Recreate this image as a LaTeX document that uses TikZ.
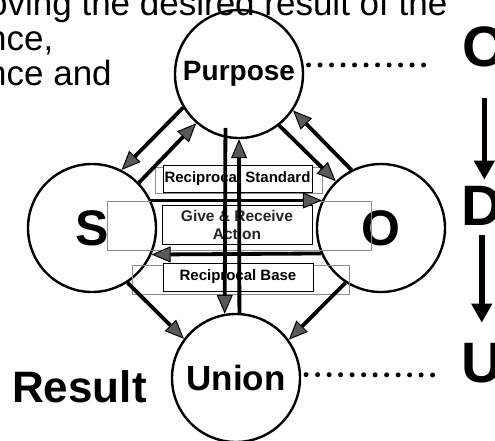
\documentclass[tikz,border=0pt]{standalone}
\usepackage{fontspec}
\setmainfont{Liberation Sans}
\usetikzlibrary{arrows.meta}

\begin{document}
\begin{tikzpicture}[x=1pt, y=-1pt,
    stage/.style={circle, draw, line width=2.4pt, minimum size=128pt, inner sep=0pt},
    flow/.style={line width=3.8pt, -{Triangle[length=19pt, width=16pt, fill=black!65, line width=1pt]}},
    recip/.style={draw, line width=1pt, fill=white, inner sep=0pt, font=\bfseries\fontsize{15}{15}\selectfont},
    ghost/.style={draw=black!45, line width=0.6pt},
    dotline/.style={line width=5pt, line cap=round, dash pattern=on 0pt off 11.5pt, shorten <=5pt},
    letter/.style={anchor=base west, inner sep=0pt, font=\bfseries\fontsize{57}{57}\selectfont},
    intro/.style={anchor=base west, inner sep=0pt, font=\fontsize{35}{35}\selectfont},
    bigdown/.style={line width=5.5pt, -{Triangle[length=19pt, width=20pt]}}]
        \useasboundingbox[fill=white] (0,0) rectangle (495,440);
        \clip (0,0) rectangle (495,440);

        % text cut off on the left
        \node[intro] (intro1) at (-12,15) {oving the desired result of the};
        \node[intro] (intro2) at (-13,50) {nce,};
        \node[intro] (intro3) at (-13,85) {nce and};

        % the four circles
        \node[stage, font=\bfseries\fontsize{28}{28}\selectfont] (purpose) at (239,74) {Purpose};
        \node[stage, font=\bfseries\fontsize{50}{50}\selectfont] (subj) at (92,228) {S};
        \node[stage, font=\bfseries\fontsize{50}{50}\selectfont] (obj) at (381,228) {O};
        \node[stage, font=\bfseries\fontsize{35}{35}\selectfont] (union) at (236,378) {Union};

        \node[anchor=base west, inner sep=0pt, font=\bfseries\fontsize{44}{44}\selectfont] (result) at (12,402) {Result};

        % grey frames behind the boxes
        \draw[ghost] (155,167) rectangle (322,193);
        \draw[ghost] (107,201) rectangle (371,250);
        \draw[ghost] (132,265) rectangle (349,294);

        \node[recip, minimum width=149pt, minimum height=27pt] (stdbox) at (237.5,178.5) {Reciprocal Standard};
        \node[recip, minimum width=150pt, minimum height=39pt, align=center, text=black!85,
              font=\bfseries\fontsize{15.5}{18}\selectfont] (givebox) at (237,224.5) {Give \& Receive\\Action};
        \node[recip, minimum width=150pt, minimum height=28pt] (basebox) at (238,277) {Reciprocal Base};

        \draw[flow] (purpose.211) -- (subj.63);
        \draw[flow] (subj.44) -- (purpose.229);
        \draw[flow] (purpose.308) -- (obj.134);
        \draw[flow] (obj.117) -- (purpose.326);
        \draw[flow] (subj.303) -- (union.143);
        \draw[flow] (obj.237) -- (union.36);
        \draw[flow] (subj.25) -- (obj.155);
        \draw[flow] (obj.203) -- (subj.336);
        \draw[flow] ([yshift=10pt]purpose.258) -- (union.100);
        \draw[flow] (union.87) -- (purpose.270);

        % O - D - U on the right
        \node[letter] (ro) at (462,66) {O};
        \node[letter] (rd) at (461,225) {D};
        \node[letter] (ru) at (461,382) {U};
        \draw[bigdown, shorten <=31pt, shorten >=6pt] (ro.south) -- (ro.south |- rd.north);
        \draw[bigdown, shorten <=10pt, shorten >=20pt] (rd.south) -- (rd.south |- ru.north);

        \coordinate (dotP) at (425,65);
        \coordinate (dotU) at (433,375);
        \draw[dotline] (purpose.8) -- (dotP);
        \draw[dotline] (union.3) -- (dotU);
\end{tikzpicture}
\end{document}
